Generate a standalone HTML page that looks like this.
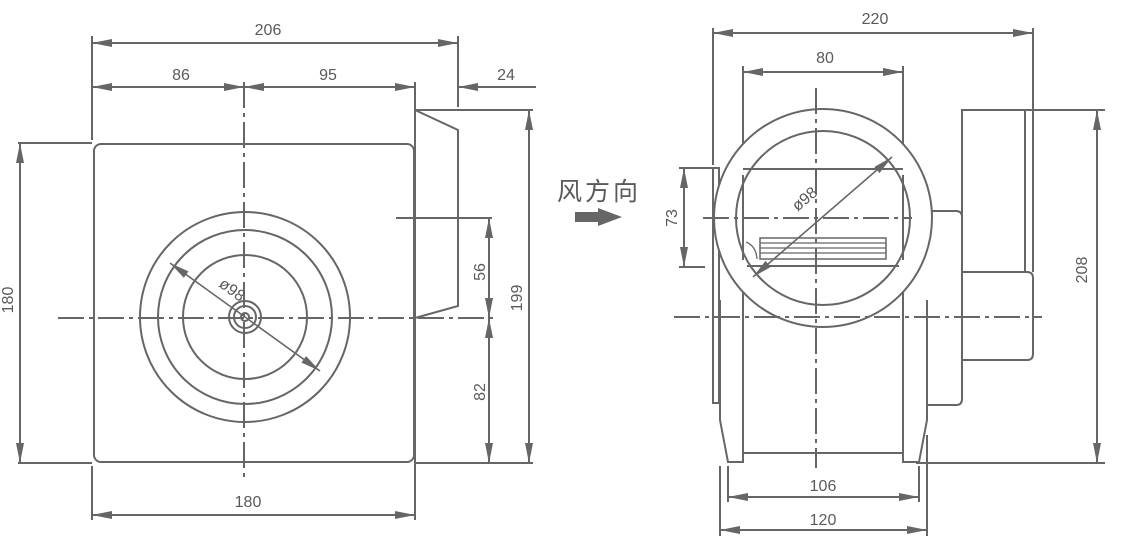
<!DOCTYPE html>
<html><head><meta charset="utf-8"><style>
html,body{margin:0;padding:0;background:#fff;}
svg{display:block}
text{font-family:"Liberation Sans","Noto Sans CJK SC",sans-serif;fill:#5a5a5a;font-size:16px}
</style></head><body>
<svg width="1136" height="558" viewBox="0 0 1136 558" xmlns="http://www.w3.org/2000/svg">
<defs>
<marker id="a" viewBox="0 0 20 8" refX="20" refY="4" markerWidth="20" markerHeight="8" markerUnits="userSpaceOnUse" orient="auto-start-reverse"><path d="M0,0 L20,4 L0,8 z" fill="#666"/></marker>
</defs>
<g stroke="#666" stroke-width="2" fill="none">
<line x1="92" y1="36" x2="92" y2="140"/>
<line x1="458" y1="36" x2="458" y2="107"/>
<line x1="415" y1="82" x2="415" y2="520"/>
<line x1="92" y1="466" x2="92" y2="520"/>
<line x1="18" y1="143" x2="92" y2="143"/>
<line x1="18" y1="463" x2="92" y2="463"/>
<line x1="415" y1="463" x2="533" y2="463"/>
<line x1="415" y1="110" x2="533" y2="110"/>
<line x1="396" y1="218" x2="492" y2="218"/>
<line x1="92" y1="43" x2="458" y2="43" marker-start="url(#a)" marker-end="url(#a)"/>
<line x1="92" y1="87" x2="244" y2="87" marker-start="url(#a)" marker-end="url(#a)"/>
<line x1="244" y1="87" x2="415" y2="87" marker-start="url(#a)" marker-end="url(#a)"/>
<line x1="536" y1="87" x2="458" y2="87" marker-end="url(#a)"/>
<line x1="20" y1="143" x2="20" y2="463" marker-start="url(#a)" marker-end="url(#a)"/>
<line x1="92" y1="515" x2="415" y2="515" marker-start="url(#a)" marker-end="url(#a)"/>
<line x1="489" y1="218" x2="489" y2="318" marker-start="url(#a)" marker-end="url(#a)"/>
<line x1="489" y1="318" x2="489" y2="463" marker-start="url(#a)" marker-end="url(#a)"/>
<line x1="529" y1="110" x2="529" y2="463" marker-start="url(#a)" marker-end="url(#a)"/>
<rect x="94" y="144" width="320" height="318" rx="7"/>
<path d="M415,110 L458,130 L458,306 L415,318"/>
<circle cx="245" cy="317" r="105"/>
<circle cx="245" cy="317" r="87"/>
<circle cx="245" cy="317" r="62"/>
<circle cx="245" cy="317" r="16"/>
<circle cx="245" cy="317" r="11"/>
<circle cx="245" cy="317" r="4"/>
<line x1="170" y1="263" x2="320" y2="371" marker-start="url(#a)" marker-end="url(#a)" stroke-width="1.6"/>
<line x1="244" y1="82" x2="244" y2="478" stroke-dasharray="26,5,4,5"/>
<line x1="58" y1="318" x2="496" y2="318" stroke-dasharray="26,5,4,5"/>

<line x1="713" y1="28" x2="713" y2="165"/>
<line x1="1033" y1="28" x2="1033" y2="272"/>
<line x1="713" y1="33" x2="1033" y2="33" marker-start="url(#a)" marker-end="url(#a)"/>
<line x1="743" y1="66" x2="743" y2="170"/>
<line x1="903" y1="66" x2="903" y2="170"/>
<line x1="743" y1="72" x2="903" y2="72" marker-start="url(#a)" marker-end="url(#a)"/>
<line x1="679" y1="168" x2="713" y2="168"/>
<line x1="679" y1="267" x2="705" y2="267"/>
<line x1="684" y1="168" x2="684" y2="267" marker-start="url(#a)" marker-end="url(#a)"/>
<line x1="1025" y1="110" x2="1105" y2="110"/>
<line x1="916" y1="463" x2="1105" y2="463"/>
<line x1="1097" y1="110" x2="1097" y2="463" marker-start="url(#a)" marker-end="url(#a)"/>
<line x1="728" y1="466" x2="728" y2="502"/>
<line x1="919" y1="466" x2="919" y2="502"/>
<line x1="720" y1="466" x2="720" y2="536"/>
<line x1="927" y1="435" x2="927" y2="536"/>
<line x1="728" y1="497" x2="919" y2="497" marker-start="url(#a)" marker-end="url(#a)"/>
<line x1="720" y1="530" x2="927" y2="530" marker-start="url(#a)" marker-end="url(#a)"/>
<rect x="713" y="168" width="6" height="235"/>
<path d="M720,300 L720,420 L728,462 L743,462 L743,170"/>
<path d="M927,300 L927,420 L919,462 L903,462 L903,170"/>
<line x1="743" y1="453" x2="903" y2="453"/>
<path d="M927,211 L956,211 Q962,211 962,217 L962,399 Q962,405 956,405 L927,405"/>
<rect x="962" y="110" width="63" height="162"/>
<path d="M962,272 L1027,272 Q1033,272 1033,278 L1033,354 Q1033,360 1027,360 L962,360"/>
<circle cx="823" cy="218" r="109" fill="#fff"/>
<circle cx="823" cy="218" r="87"/>
<line x1="743" y1="169" x2="903" y2="169"/>
<line x1="743" y1="175" x2="743" y2="260"/>
<line x1="903" y1="175" x2="903" y2="260"/>
<line x1="747" y1="266" x2="899" y2="266"/>
<rect x="760" y="238" width="126" height="21" stroke-width="1.5"/>
<line x1="760" y1="243" x2="886" y2="243" stroke-width="1.3"/>
<line x1="760" y1="248" x2="886" y2="248" stroke-width="1.3"/>
<line x1="760" y1="253" x2="886" y2="253" stroke-width="1.3"/>
<path d="M746,242 Q756,246 757,259" stroke-width="1.3"/>
<line x1="753" y1="277" x2="892" y2="157" marker-start="url(#a)" marker-end="url(#a)" stroke-width="1.6"/>
<line x1="816" y1="88" x2="816" y2="468" stroke-dasharray="26,5,4,5"/>
<line x1="703" y1="218" x2="912" y2="218" stroke-dasharray="26,5,4,5"/>
<line x1="674" y1="317" x2="1042" y2="317" stroke-dasharray="26,5,4,5"/>
</g>
<text x="268" y="35" text-anchor="middle">206</text>
<text x="181" y="80" text-anchor="middle">86</text>
<text x="328" y="80" text-anchor="middle">95</text>
<text x="506" y="80" text-anchor="middle">24</text>
<text x="248" y="507" text-anchor="middle">180</text>
<text transform="translate(13,300) rotate(-90)" text-anchor="middle">180</text>
<text transform="translate(485,272) rotate(-90)" text-anchor="middle">56</text>
<text transform="translate(485,392) rotate(-90)" text-anchor="middle">82</text>
<text transform="translate(522,298) rotate(-90)" text-anchor="middle">199</text>
<text transform="translate(229,294) rotate(36)" text-anchor="middle">ø98</text>
<text x="875" y="24" text-anchor="middle">220</text>
<text x="825" y="63" text-anchor="middle">80</text>
<text transform="translate(677,218) rotate(-90)" text-anchor="middle">73</text>
<text transform="translate(1087,270) rotate(-90)" text-anchor="middle">208</text>
<text transform="translate(808,203) rotate(-40)" text-anchor="middle">ø98</text>
<text x="823" y="491" text-anchor="middle">106</text>
<text x="823" y="525" text-anchor="middle">120</text>
<text x="557" y="200" style="font-size:25px;letter-spacing:3px">风方向</text>
<path d="M575,212 L598,212 L598,208 L622,217 L598,226 L598,222 L575,222 z" fill="#666"/>
</svg>
</body></html>
